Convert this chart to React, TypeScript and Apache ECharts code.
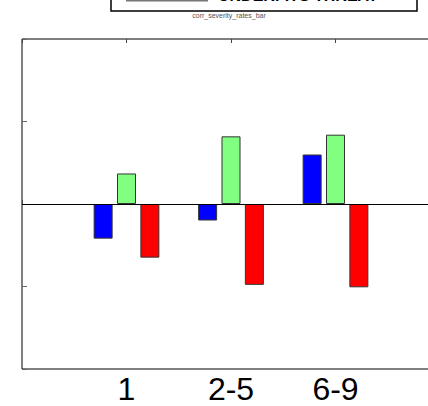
import React, { useEffect, useRef } from "react";
import * as echarts from "echarts";

// Category slots: empty ends pad the axis so groups sit at 1, 2, 3 of 0..4
const categories = ["", "1", "2-5", "6-9", ""];
const blueValues = [null, -0.42, -0.2, 0.6, null];
const greenValues = [null, 0.37, 0.82, 0.84, null];
const redValues = [null, -0.65, -0.98, -1.01, null];

const legendLabel = "UNDERFITS THREAT";
const captionText = "corr_severity_rates_bar";

export default function App() {
  const ref = useRef<HTMLDivElement>(null);

  useEffect(() => {
    document.body.style.margin = "0";
    if (!ref.current) return;
    const chart = echarts.init(ref.current, null, { renderer: "svg" });

    const barStyle = (color: string) => ({
      color,
      borderColor: "#333",
      borderWidth: 1,
    });

    chart.setOption({
      animation: false,
      backgroundColor: "#fff",
      grid: {
        left: 22,
        top: 39,
        width: 418,
        height: 330,
        show: true,
        borderColor: "#000",
        borderWidth: 1,
        containLabel: false,
        outerBoundsMode: "none",
      },
      xAxis: [
        {
          type: "category",
          data: categories,
          boundaryGap: false,
          position: "bottom",
          axisLine: { show: false },
          axisTick: {
            show: true,
            inside: true,
            length: 4,
            interval: 0,
            lineStyle: { color: "#444" },
          },
          axisLabel: {
            show: true,
            interval: 0,
            margin: 6,
            fontSize: 32,
            lineHeight: 28,
            fontFamily: "Liberation Sans, Arial, sans-serif",
            color: "#000",
          },
          splitLine: { show: false },
        },
        {
          type: "category",
          data: categories,
          boundaryGap: false,
          position: "top",
          axisLine: { show: false },
          axisTick: {
            show: true,
            inside: true,
            length: 4,
            interval: 0,
            lineStyle: { color: "#444" },
          },
          axisLabel: { show: false },
          splitLine: { show: false },
        },
      ],
      yAxis: {
        type: "value",
        min: -2,
        max: 2,
        interval: 1,
        axisLine: { show: false },
        axisTick: {
          show: true,
          inside: true,
          length: 5,
          lineStyle: { color: "#666" },
        },
        axisLabel: { show: false },
        splitLine: { show: false },
      },
      series: [
        {
          type: "bar",
          name: "blue",
          data: blueValues,
          barWidth: 19,
          barGap: "23%",
          itemStyle: barStyle("#0000ff"),
          markLine: {
            silent: true,
            symbol: "none",
            label: { show: false },
            lineStyle: { color: "#000", width: 1, type: "solid" },
            data: [{ yAxis: 0 }],
          },
        },
        {
          type: "bar",
          name: "green",
          data: greenValues,
          barWidth: 19,
          barGap: "23%",
          itemStyle: barStyle("#80ff80"),
        },
        {
          type: "bar",
          name: "red",
          data: redValues,
          barWidth: 19,
          barGap: "23%",
          itemStyle: barStyle("#ff0000"),
        },
      ],
      graphic: [
        {
          type: "rect",
          shape: { x: 111, y: -20, width: 306, height: 31 },
          style: { fill: "#fff", stroke: "#000", lineWidth: 1.5 },
        },
        {
          type: "line",
          shape: { x1: 126, y1: 0.5, x2: 208, y2: 0.5 },
          style: { stroke: "#777", lineWidth: 2 },
        },
        {
          type: "text",
          x: 218,
          y: 3,
          style: {
            text: legendLabel,
            font: "bold 16px Liberation Sans, Arial, sans-serif",
            fill: "#000",
            verticalAlign: "bottom",
          },
        },
        {
          type: "text",
          x: 229,
          y: 15,
          style: {
            text: captionText,
            font: "7px Liberation Sans, Arial, sans-serif",
            fill: "#555",
            align: "center",
            verticalAlign: "middle",
          },
        },
      ],
    });

    return () => chart.dispose();
  }, []);

  return <div ref={ref} style={{ width: 428, height: 406 }} />;
}
